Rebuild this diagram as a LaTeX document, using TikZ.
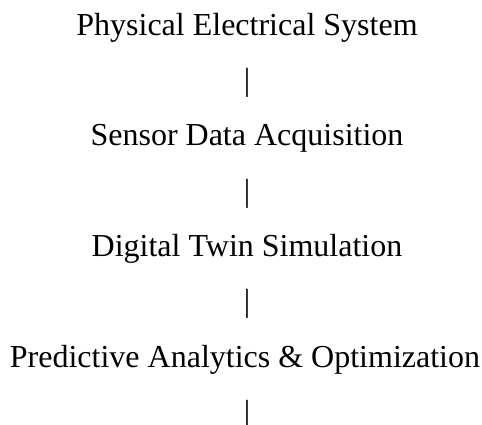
\documentclass[tikz,border=0pt]{standalone}
\usepackage{fontspec}
\setmainfont{Liberation Serif}
\begin{document}
\begin{tikzpicture}[x=1pt,y=-1pt,
  lbl/.style={inner sep=0pt,anchor=base,font=\fontsize{32}{38}\selectfont},
  bar/.style={inner sep=0pt,anchor=base,font=\fontsize{32}{38}\selectfont}]
\useasboundingbox (0,0) rectangle (482,425);
\node[lbl] (a) at (247,36) {Physical Electrical System};
\node[bar] (b1) at (247,91) {|};
\node[lbl] (b) at (247,146) {Sensor Data Acquisition};
\node[bar] (b2) at (247,201) {|};
\node[lbl] (c) at (247,256) {Digital Twin Simulation};
\node[bar] (b3) at (247,311) {|};
\node[lbl] (d) at (245,367) {Predictive Analytics \& Optimization};
\node[bar] (b4) at (247,422) {|};
\end{tikzpicture}
\end{document}
